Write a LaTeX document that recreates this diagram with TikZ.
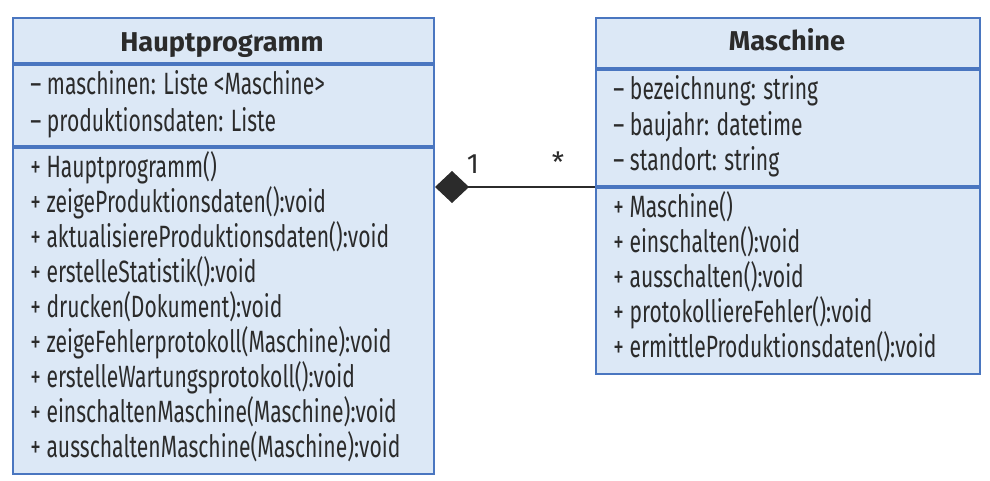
\documentclass[tikz,border=0pt]{standalone}
\usepackage{fontspec}
\setmainfont{Fira Sans}
\newfontfamily\narrowfont[FakeStretch=0.685]{Fira Sans}
\usetikzlibrary{arrows.meta}

\definecolor{boxfill}{HTML}{DCE8F6}
\definecolor{boxline}{HTML}{4A76C0}
\definecolor{ink}{HTML}{2B2B2B}

\tikzset{
  part/.style={draw=boxline, fill=boxfill, line width=1pt, anchor=north west, inner sep=0pt},
  head/.style={font=\fontsize{13.6}{15}\selectfont\bfseries, text=ink, anchor=base, inner sep=0pt},
  entry/.style={font=\narrowfont\fontsize{15.4}{17}\selectfont, text=ink, anchor=base west, inner sep=0pt},
  mult/.style={font=\fontsize{14}{16}\selectfont, text=ink, anchor=base, inner sep=0pt},
}

\begin{document}
\begin{tikzpicture}[x=0.5pt,y=-0.5pt]
  \useasboundingbox (0,0) rectangle (990,481);

  % class Hauptprogramm
  \node[part, minimum width=210.5pt, minimum height=22.5pt] (hp-head) at (12,17) {};
  \node[part, minimum width=210.5pt, minimum height=40.5pt] (hp-attr) at (hp-head.south west) {};
  \node[part, minimum width=210.5pt, minimum height=163pt] (hp-meth) at (hp-attr.south west) {};
  \node[head] (hp-name) at (222,52) {Hauptprogramm};
  \foreach \t [count=\i] in {maschinen: Liste <Maschine>, produktionsdaten: Liste} {%
    \node[entry] (hp-a\i) at (30,{95+37*(\i-1)}) {– \t};
  }
  \foreach \t [count=\i] in {Hauptprogramm(), zeigeProduktionsdaten():void,
      aktualisiereProduktionsdaten():void, erstelleStatistik():void,
      drucken(Dokument):void, zeigeFehlerprotokoll(Maschine):void,
      erstelleWartungsprotokoll():void, einschaltenMaschine(Maschine):void,
      ausschaltenMaschine(Maschine):void} {%
    \node[entry] (hp-m\i) at (30,{177+35*(\i-1)}) {+ \t};
  }

  % class Maschine
  \node[part, minimum width=192pt, minimum height=25pt] (ma-head) at (595,17) {};
  \node[part, minimum width=192pt, minimum height=58pt] (ma-attr) at (ma-head.south west) {};
  \node[part, minimum width=192pt, minimum height=93pt] (ma-meth) at (ma-attr.south west) {};
  \node[head] (ma-name) at (787,51) {Maschine};
  \foreach \t [count=\i] in {bezeichnung: string, baujahr: datetime, standort: string} {%
    \node[entry] (ma-a\i) at (613,{100+35*(\i-1)}) {– \t};
  }
  \foreach \t [count=\i] in {Maschine(), einschalten():void, ausschalten():void,
      protokolliereFehler():void, ermittleProduktionsdaten():void} {%
    \node[entry] (ma-m\i) at (613,{217+35*(\i-1)}) {+ \t};
  }

  % composition
  \coordinate (join) at (hp-meth.east |- ma-attr.south);
  \draw[ink, line width=1pt, -{Diamond[length=17pt,width=16pt]}] (ma-attr.south west) -- (join);
  \node[mult] (mult-one) at (473,173) {1};
  \node[mult] (mult-many) at (558,172) {*};
\end{tikzpicture}
\end{document}
